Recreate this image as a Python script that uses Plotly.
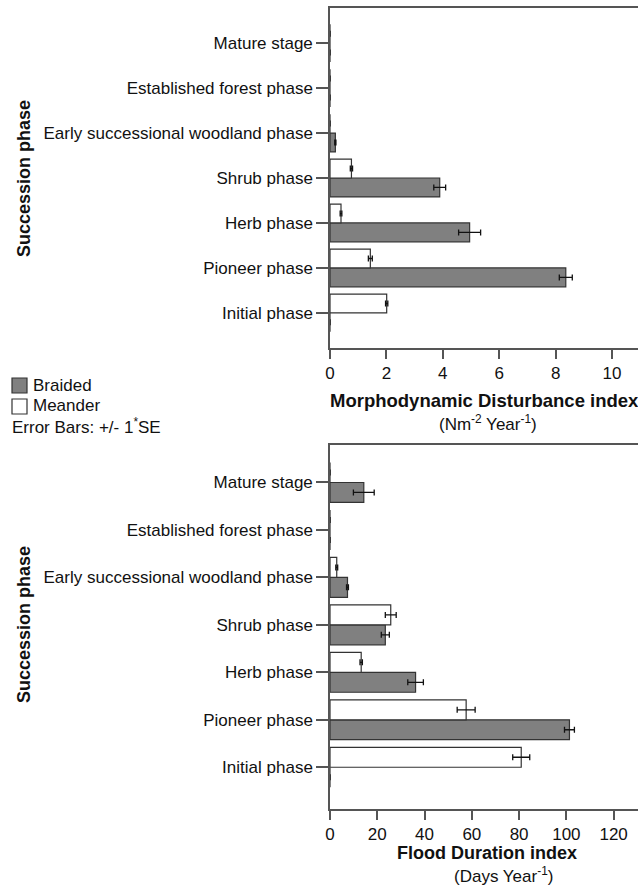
import plotly.graph_objects as go
from plotly.subplots import make_subplots

# ---- data ----
phases = ["Initial phase", "Pioneer phase", "Herb phase", "Shrub phase",
          "Early successional woodland phase", "Established forest phase", "Mature stage"]

mdi_braided = [0, 8.36, 4.95, 3.89, 0.19, 0, 0]
mdi_braided_se = [0, 0.23, 0.39, 0.21, 0.02, 0, 0]
mdi_meander = [2.01, 1.43, 0.39, 0.76, 0, 0, 0]
mdi_meander_se = [0.04, 0.07, 0.03, 0.04, 0, 0, 0]

fdi_braided = [0, 101.3, 36.2, 23.4, 7.4, 0, 14.3]
fdi_braided_se = [0, 2.1, 3.3, 1.7, 0.4, 0, 4.4]
fdi_meander = [80.9, 57.6, 13.2, 25.7, 2.85, 0, 0]
fdi_meander_se = [3.6, 3.8, 0.5, 2.3, 0.4, 0, 0]

mdi_ticks = [0, 2, 4, 6, 8, 10]
fdi_ticks = [0, 20, 40, 60, 80, 100, 120]

# ---- style ----
FONT = "Liberation Sans, Arial, sans-serif"
W, H = 638, 885
L = 330
GRAY = "#808080"
EDGE = "#333333"
AXC = "#555555"

fig = make_subplots(rows=2, cols=1, vertical_spacing=0.05)

def add_pair(row, b, bse, m, mse):
    fig.add_trace(go.Bar(y=phases, x=b, orientation="h", name="Braided",
                         marker=dict(color=GRAY, line=dict(color=EDGE, width=1.2)),
                         error_x=dict(type="data", array=bse, color="#111", thickness=1.3, width=3),
                         showlegend=False), row=row, col=1)
    fig.add_trace(go.Bar(y=phases, x=m, orientation="h", name="Meander",
                         marker=dict(color="white", line=dict(color=EDGE, width=1.2)),
                         error_x=dict(type="data", array=mse, color="#111", thickness=1.3, width=3),
                         showlegend=False), row=row, col=1)

add_pair(1, mdi_braided, mdi_braided_se, mdi_meander, mdi_meander_se)
add_pair(2, fdi_braided, fdi_braided_se, fdi_meander, fdi_meander_se)

def py(p):
    return 1 - p / H

def px(p):
    return (p - L) / (W - L)

axis_common = dict(showline=True, linecolor=AXC, linewidth=1.5, ticks="outside",
                   tickcolor=AXC, showgrid=False, zeroline=False,
                   tickfont=dict(family=FONT, size=17, color="#111"))

fig.update_xaxes(**axis_common, mirror=True, ticklen=9, tickwidth=1.5)
fig.update_yaxes(**axis_common, ticklen=12, tickwidth=1.5, type="category",
                 categoryorder="array", categoryarray=phases)
fig.update_yaxes(tickfont=dict(family=FONT, size=17, color="#111"))

fig.update_xaxes(range=[0, 10.92], tickvals=mdi_ticks, row=1, col=1)
fig.update_xaxes(range=[0, 130.3], tickvals=fdi_ticks, row=2, col=1)
fig.update_yaxes(range=[-0.78, 6.78], row=1, col=1)
fig.update_yaxes(range=[-0.88, 6.79], row=2, col=1)

fig.update_layout(
    width=W, height=H,
    margin=dict(l=L, r=0, t=0, b=0),
    plot_bgcolor="white", paper_bgcolor="white",
    barmode="group", bargap=0.16, bargroupgap=0,
    font=dict(family=FONT, color="#111"),
    yaxis=dict(domain=[py(348), py(8)]),
    yaxis2=dict(domain=[py(809), py(445)]),
)

ann = []
def text(x, y, t, size, angle=0, xanchor="center"):
    ann.append(dict(xref="paper", yref="paper", x=px(x), y=py(y), text=t,
                    showarrow=False, textangle=angle, xanchor=xanchor, yanchor="middle",
                    font=dict(family=FONT, size=size, color="#111")))

# axis titles
text(484, 400, "<b>Morphodynamic Disturbance index</b>", 18.5)
text(488, 423, "(Nm<sup>-2</sup> Year<sup>-1</sup>)", 17)
text(487, 853, "<b>Flood Duration index</b>", 18)
text(503, 875, "(Days Year<sup>-1</sup>)", 17)
text(24, 179, "<b>Succession phase</b>", 18, angle=-90)
text(24, 625, "<b>Succession phase</b>", 18, angle=-90)

# legend
text(31, 385, "Braided", 17, xanchor="left")
text(31, 406, "Meander", 17, xanchor="left")
text(10, 426, "Error Bars: +/- 1<sup>*</sup>SE", 17, xanchor="left")
fig.update_layout(annotations=ann)

shapes = [
    dict(type="rect", xref="paper", yref="paper", x0=px(12), x1=px(27), y0=py(393), y1=py(378),
         fillcolor=GRAY, line=dict(color=EDGE, width=1.2)),
    dict(type="rect", xref="paper", yref="paper", x0=px(12), x1=px(27), y0=py(414), y1=py(399),
         fillcolor="white", line=dict(color=EDGE, width=1.2)),
]
fig.update_layout(shapes=shapes)

fig.write_html("out.html", config={"displayModeBar": False},
               post_script="document.body.style.margin='0';document.body.style.overflow='hidden';")
